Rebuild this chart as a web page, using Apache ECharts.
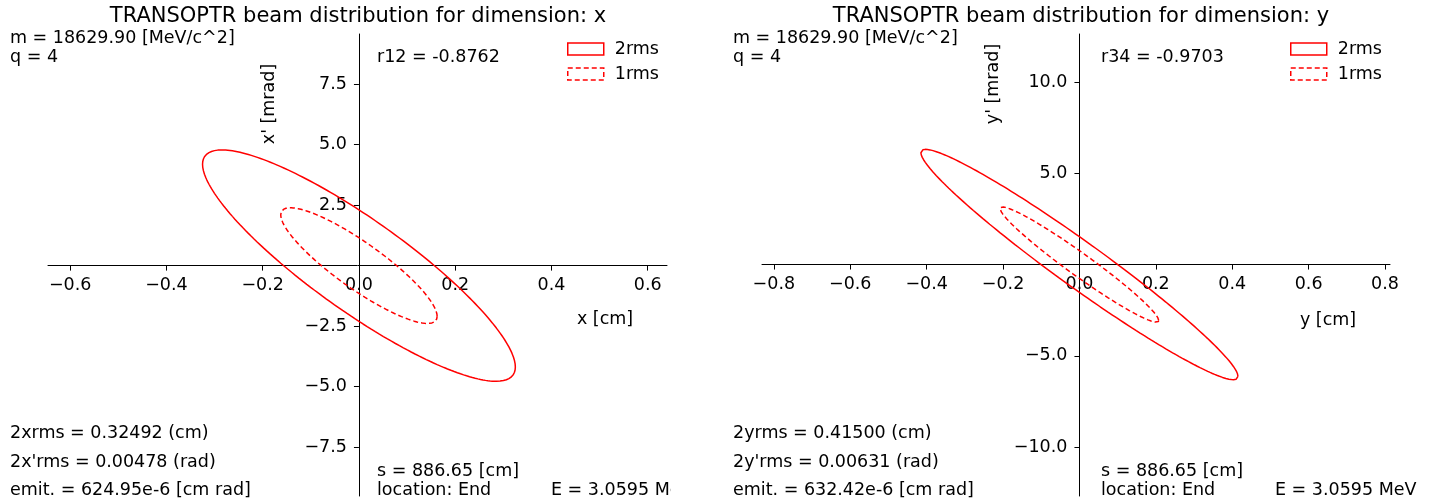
<!DOCTYPE html>
<html>
<head>
<meta charset="utf-8">
<title>TRANSOPTR beam distribution</title>
<script src="https://cdn.jsdelivr.net/npm/echarts@6/dist/echarts.min.js"></script>
<style>
  html, body { margin: 0; padding: 0; background: #fff; }
  #chart { width: 1434px; height: 504px; }
</style>
</head>
<body>
<div id="chart"></div>
<script>
// Beam parameters for the two transverse dimensions (x, y)
const dimNames = ['x', 'y'];
const posRms2 = [0.32492, 0.41500];      // 2*rms size [cm]
const angRms2 = [0.00478, 0.00631];      // 2*rms divergence [rad]
const corrCoef = [-0.8762, -0.9703];     // r12, r34
const corrNames = ['r12', 'r34'];
const emitLabels = ['624.95e-6', '632.42e-6'];
const massMeV = '18629.90';
const chargeState = '4';
const sPosition = '886.65';
const energyMeV = '3.0595';
const locationName = 'End';

// Axis ranges and tick labels
const xRanges = [[-0.646, 0.640], [-0.831, 0.813]];
const yRanges = [[-9.52, 9.57], [-12.68, 12.63]];
const xTickValues = [[-0.6, -0.4, -0.2, 0.0, 0.2, 0.4, 0.6], [-0.8, -0.6, -0.4, -0.2, 0.0, 0.2, 0.4, 0.6, 0.8]];
const yTickValues = [[-7.5, -5.0, -2.5, 2.5, 5.0, 7.5], [-10.0, -5.0, 5.0, 10.0]];

// Plot panel geometry (pixels)
const panelLeft = [48, 762];
const panelWidth = [619, 628];
const panelTop = 34;
const panelHeight = 462;

const FONT = 'DejaVu Sans';
const BASE = 17.5;
const RED = '#ff0000';

// Phase-space ellipse from rms size a, rms divergence b (mrad) and correlation r
function ellipse(a, b, r, n) {
  const pts = [];
  const s = Math.sqrt(1 - r * r);
  for (let i = 0; i <= n; i++) {
    const t = (2 * Math.PI * i) / n;
    pts.push([a * Math.cos(t), b * (r * Math.cos(t) + s * Math.sin(t))]);
  }
  return pts;
}

const fmt = (d) => (v) => v.toFixed(d).replace('-', '\u2212');

const grids = [], xAxes = [], yAxes = [], series = [], legends = [], graphics = [];

dimNames.forEach((dim, k) => {
  const L = panelLeft[k];
  const [x0, x1] = xRanges[k];
  const [y0, y1] = yRanges[k];
  // Spines cross at the origin: shift each axis from the panel edge to the zero position
  const xAxisShift = -panelHeight * (0 - y0) / (y1 - y0);
  const yAxisShift = -panelWidth[k] * (0 - x0) / (x1 - x0);

  grids.push({ left: L, top: panelTop, width: panelWidth[k], height: panelHeight, containLabel: false, outerBoundsMode: 'none' });
  xAxes.push({
    type: 'value', gridIndex: k, min: x0, max: x1, position: 'bottom', offset: xAxisShift,
    axisLine: { onZero: false, lineStyle: { color: '#000', width: 1 } },
    axisTick: { show: true, length: 5, lineStyle: { color: '#000' }, customValues: xTickValues[k] },
    axisLabel: { customValues: xTickValues[k], formatter: fmt(1), color: '#000', fontFamily: FONT, fontSize: BASE, margin: 11 },
    splitLine: { show: false }
  });
  yAxes.push({
    type: 'value', gridIndex: k, min: y0, max: y1, position: 'left', offset: yAxisShift,
    axisLine: { onZero: false, lineStyle: { color: '#000', width: 1 } },
    axisTick: { show: true, length: 5, lineStyle: { color: '#000' }, customValues: yTickValues[k] },
    axisLabel: { customValues: yTickValues[k], formatter: fmt(1), color: '#000', fontFamily: FONT, fontSize: BASE, margin: 12 },
    splitLine: { show: false }
  });

  const a = posRms2[k], b = angRms2[k] * 1000, r = corrCoef[k];
  series.push({
    name: '2rms', type: 'line', xAxisIndex: k, yAxisIndex: k,
    data: ellipse(a, b, r, 240), showSymbol: false, smooth: false, silent: true,
    lineStyle: { color: RED, width: 1.5, type: 'solid' }, itemStyle: { color: RED }
  });
  series.push({
    name: '1rms', type: 'line', xAxisIndex: k, yAxisIndex: k,
    data: ellipse(a / 2, b / 2, r, 240), showSymbol: false, smooth: false, silent: true,
    lineStyle: { color: RED, width: 1.5, type: [5, 3] }, itemStyle: { color: RED }
  });

  const legLeft = k === 0 ? 567 : 1290;
  legends.push({
    left: legLeft, top: 40, orient: 'vertical', itemWidth: 36, itemHeight: 12, itemGap: 7,
    padding: 0, selectedMode: false,
    textStyle: { fontFamily: FONT, fontSize: BASE, color: '#000', padding: [0, 0, 0, 6] },
    data: [
      { name: '2rms', icon: 'rect', itemStyle: { color: 'transparent', borderColor: RED, borderWidth: 1.5, borderType: 'solid' } },
      { name: '1rms', icon: 'rect', itemStyle: { color: 'transparent', borderColor: RED, borderWidth: 1.5, borderType: [5, 3] } }
    ]
  });

  const txt = (x, y, s, extra) => Object.assign({
    type: 'text', x: x, y: y, z: 10,
    style: Object.assign({ text: s, fill: '#000', font: BASE + 'px "' + FONT + '"', textAlign: 'left', textVerticalAlign: 'middle' }, extra || {})
  });
  const tx = k === 0 ? 0 : 723;
  const ax = k === 0 ? 377 : 1101;
  const ex = k === 0 ? 551 : 1275;
  const titleX = k === 0 ? 358 : 1081;
  graphics.push(txt(titleX, 17, 'TRANSOPTR beam distribution for dimension: ' + dim,
    { textAlign: 'center', font: '21px "' + FONT + '"' }));
  graphics.push(txt(tx + 10, 38, 'm = ' + massMeV + ' [MeV/c^2]'));
  graphics.push(txt(tx + 10, 57, 'q = ' + chargeState));
  graphics.push(txt(ax, 57, corrNames[k] + ' = ' + r.toFixed(4)));
  graphics.push(txt(tx + 10, 433, '2' + dim + 'rms = ' + posRms2[k].toFixed(5) + ' (cm)'));
  graphics.push(txt(tx + 10, 462, '2' + dim + '\'rms = ' + angRms2[k].toFixed(5) + ' (rad)'));
  graphics.push(txt(tx + 10, 490, 'emit. = ' + emitLabels[k] + ' [cm rad]'));
  graphics.push(txt(ax, 471, 's = ' + sPosition + ' [cm]'));
  graphics.push(txt(ax, 490, 'location: ' + locationName));
  graphics.push(txt(ex, 490, 'E = ' + energyMeV + ' MeV'));
  // axis titles
  const xl = k === 0 ? [605, 319] : [1328, 320];
  const yl = k === 0 ? [269, 104] : [993, 84];
  graphics.push(txt(xl[0], xl[1], dim + ' [cm]', { textAlign: 'center' }));
  graphics.push({
    type: 'text', x: yl[0], y: yl[1], rotation: Math.PI / 2, z: 10,
    style: { text: dim + '\' [mrad]', fill: '#000', font: BASE + 'px "' + FONT + '"', textAlign: 'center', textVerticalAlign: 'middle' }
  });
});

// left panel's energy label is cut off at the panel boundary
graphics.push({ type: 'rect', z: 20, shape: { x: 671, y: 476, width: 50, height: 28 }, style: { fill: '#fff' } });

const chart = echarts.init(document.getElementById('chart'), null, { renderer: 'canvas' });
chart.setOption({
  backgroundColor: '#fff',
  animation: false,
  textStyle: { fontFamily: FONT },
  grid: grids,
  xAxis: xAxes,
  yAxis: yAxes,
  legend: legends,
  series: series,
  graphic: graphics
});
</script>
</body>
</html>
